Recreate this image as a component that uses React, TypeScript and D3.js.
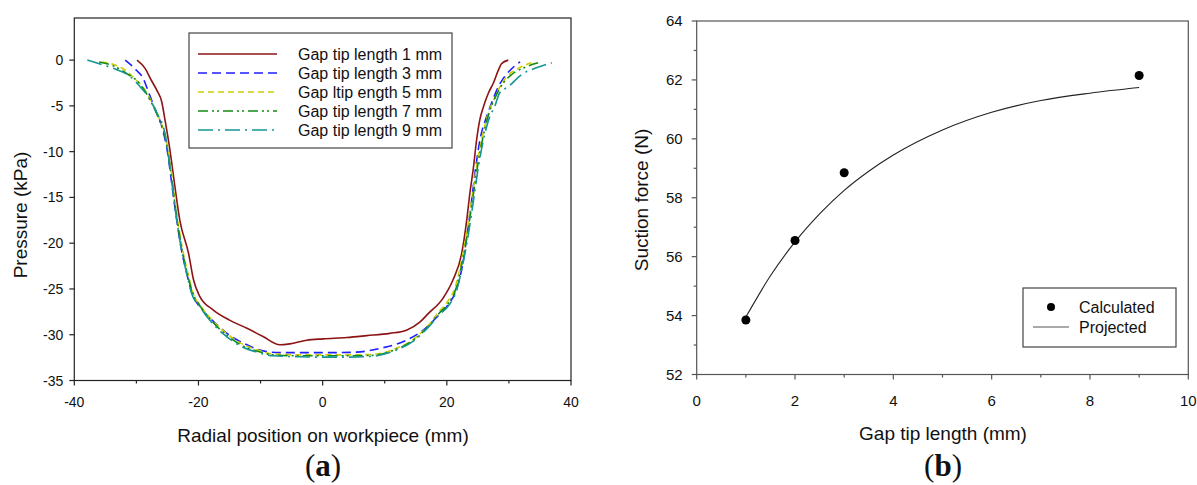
import React from "react";
import * as d3 from "d3";

// ---------- Data (a): pressure profiles ----------
const seriesNames = [
  "Gap tip length 1 mm",
  "Gap tip length 3 mm",
  "Gap ltip ength 5 mm",
  "Gap tip length 7 mm",
  "Gap tip length 9 mm",
];

const x1mm = [-29.9, -28.6, -27.6, -26.7, -25.9, -25.4, -24.6, -23.8, -23.0, -21.6, -20.8, -19.8, -17.6, -15.0, -12.2, -9.6, -6.9, -5.3, -2.6, 0.1, 3.9, 7.1, 10.8, 13.5, 15.7, 17.0, 19.4, 21.0, 22.4, 23.2, 23.7, 24.3, 24.8, 25.3, 25.9, 26.7, 27.5, 28.3, 28.8, 29.9];
const p1mm = [0, -0.9, -2.2, -3.3, -4.6, -6.5, -9.8, -13.8, -17.5, -21.1, -24.0, -25.8, -27.3, -28.4, -29.3, -30.2, -31.1, -31.0, -30.6, -30.45, -30.3, -30.1, -29.85, -29.5, -28.6, -27.7, -26.0, -24.0, -21.1, -17.5, -14.6, -11.65, -8.7, -6.55, -5.1, -3.6, -2.5, -1.1, -0.4, 0];

const x3mm = [-31.8, -30.0, -28.9, -28.2, -27.2, -25.8, -25.0, -24.3, -23.6, -22.8, -22.0, -21.0, -19.5, -18.1, -15.4, -12.2, -9.0, -6.9, -1.5, 2.0, 5.5, 9.2, 13.5, 16.2, 18.5, 20.0, 21.4, 22.5, 23.3, 24.0, 24.6, 25.4, 26.4, 27.2, 28.3, 29.1, 30.2, 31.8];
const p3mm = [0, -1.1, -2.0, -3.2, -5.0, -7.5, -10.0, -13.5, -17.0, -20.5, -23.0, -25.5, -27.2, -28.2, -29.85, -31.1, -31.85, -31.95, -31.95, -31.95, -31.9, -31.5, -30.6, -29.5, -28.0, -26.9, -25.3, -22.5, -18.9, -15.3, -12.0, -8.5, -6.2, -4.7, -2.9, -2.0, -1.1, -0.2];

const x5mm = [-35.6, -34.0, -32.0, -30.3, -28.9, -27.6, -26.3, -25.2, -24.4, -23.6, -22.8, -21.7, -20.9, -19.6, -17.8, -15.6, -13.0, -10.3, -8.0, -4.0, 0, 4.0, 8.0, 11.4, 14.6, 17.0, 18.6, 20.0, 21.4, 22.4, 23.3, 24.1, 24.9, 25.7, 26.6, 27.8, 29.0, 30.3, 31.5, 33.6];
const p5mm = [-0.2, -0.4, -1.0, -2.0, -3.0, -4.5, -6.4, -8.7, -12.0, -16.2, -19.8, -23.3, -25.4, -26.9, -28.4, -29.8, -31.0, -31.7, -32.1, -32.2, -32.2, -32.2, -32.15, -31.6, -30.5, -29.0, -27.6, -26.5, -24.7, -21.8, -18.4, -14.8, -11.2, -8.4, -6.0, -4.0, -2.4, -1.4, -0.9, -0.3];

const x7mm = [-36.0, -34.0, -31.6, -30.0, -28.8, -27.6, -26.4, -25.3, -24.5, -23.7, -22.9, -21.8, -21.0, -19.7, -18.0, -15.8, -13.2, -10.5, -8.0, -4.0, 0, 4.0, 8.0, 11.4, 14.6, 17.0, 18.7, 20.1, 21.5, 22.5, 23.4, 24.2, 25.0, 25.8, 26.7, 27.7, 29.1, 30.4, 32.9, 34.7];
const p7mm = [-0.2, -0.55, -1.45, -2.2, -3.2, -4.6, -6.4, -8.6, -12.0, -16.2, -19.8, -23.3, -25.3, -26.9, -28.4, -29.85, -31.1, -31.8, -32.2, -32.3, -32.3, -32.3, -32.25, -31.7, -30.6, -29.1, -27.7, -26.7, -24.9, -22.0, -18.6, -15.0, -11.4, -8.5, -6.0, -4.2, -2.5, -1.6, -0.7, -0.3];

const x9mm = [-37.9, -35.3, -33.7, -31.0, -29.4, -28.1, -26.7, -25.4, -24.6, -23.8, -23.0, -21.9, -21.1, -19.8, -18.2, -16.0, -13.3, -10.6, -8.0, -4.0, 0, 4.0, 8.0, 11.4, 14.6, 17.0, 18.8, 20.2, 21.6, 22.6, 23.5, 24.3, 25.1, 25.9, 26.9, 27.7, 28.5, 29.9, 32.3, 34.2, 36.9];
const p9mm = [0, -0.55, -0.9, -1.8, -2.9, -4.0, -5.8, -8.0, -11.6, -16.0, -19.7, -23.3, -25.5, -26.9, -28.4, -29.9, -31.2, -31.9, -32.3, -32.4, -32.45, -32.45, -32.35, -31.8, -30.7, -29.2, -27.8, -26.9, -25.1, -22.2, -18.9, -15.3, -11.6, -8.7, -6.2, -5.1, -3.6, -2.9, -1.45, -0.9, -0.3];

const seriesX = [x1mm, x3mm, x5mm, x7mm, x9mm];
const seriesP = [p1mm, p3mm, p5mm, p7mm, p9mm];

const aXTicks = [-40, -20, 0, 20, 40];
const aXMinor = [-30, -10, 10, 30];
const aYTicks = [0, -5, -10, -15, -20, -25, -30, -35];

// ---------- Data (b): suction force ----------
const gapCalc = [1, 2, 3, 9];
const forceCalc = [53.85, 56.55, 58.85, 62.15];
const gapProj = [1, 1.5, 2, 2.5, 3, 3.5, 4, 5, 6, 7, 8, 9];
const forceProj = [53.95, 55.35, 56.5, 57.45, 58.25, 58.9, 59.45, 60.3, 60.9, 61.3, 61.55, 61.74];
const bXTicks = [0, 2, 4, 6, 8, 10];
const bXMinor = [1, 3, 5, 7, 9];
const bYTicks = [52, 54, 56, 58, 60, 62, 64];
const bYMinor = [53, 55, 57, 59, 61, 63];

// ---------- Styles ----------
const styles = [
  { color: "#8c1414", dash: "" },
  { color: "#1f1fff", dash: "9,5" },
  { color: "#cccc00", dash: "6,4" },
  { color: "#128a12", dash: "10,4,2,3,2,4" },
  { color: "#159595", dash: "15,5,2,5" },
];

const FONT = "'Liberation Sans', Arial, sans-serif";
const SERIF = "'Liberation Serif', 'DejaVu Serif', serif";

export default function App() {
  // Panel (a)
  const ax = d3.scaleLinear().domain([-40, 40]).range([74.3, 571]);
  const ay = d3.scaleLinear().domain([-35, 4.6]).range([380.5, 18]);
  const aLine = d3
    .line<[number, number]>()
    .x((d) => ax(d[0]))
    .y((d) => ay(d[1]))
    .curve(d3.curveMonotoneX);

  // Panel (b)
  const bx = d3.scaleLinear().domain([0, 10]).range([696.7, 1188.3]);
  const by = d3.scaleLinear().domain([52, 64]).range([374.5, 21]);
  const bLine = d3
    .line<[number, number]>()
    .x((d) => bx(d[0]))
    .y((d) => by(d[1]))
    .curve(d3.curveMonotoneX);

  const axisA = "#222";
  const axisB = "#555";

  const legendRowsA = [54, 73, 92, 111, 130];

  return (
    <svg
      width={1197}
      height={485}
      style={{ position: "absolute", left: 0, top: 0, background: "#fff" }}
      fontFamily={FONT}
    >
      {/* ================= Panel (a) ================= */}
      <rect x={ax(-40)} y={ay(4.6)} width={ax(40) - ax(-40)} height={ay(-35) - ay(4.6)} fill="none" stroke={axisA} strokeWidth={1.2} />
      {aXTicks.map((t) => (
        <g key={"axt" + t}>
          <line x1={ax(t)} x2={ax(t)} y1={ay(-35)} y2={ay(-35) + 5} stroke={axisA} strokeWidth={1.2} />
          <text x={ax(t)} y={ay(-35) + 26} fontSize={14} textAnchor="middle" fill="#111">{t}</text>
        </g>
      ))}
      {aXMinor.map((t) => (
        <line key={"axm" + t} x1={ax(t)} x2={ax(t)} y1={ay(-35)} y2={ay(-35) + 3} stroke={axisA} strokeWidth={1.2} />
      ))}
      {aYTicks.map((t) => (
        <g key={"ayt" + t}>
          <line x1={ax(-40) - 5} x2={ax(-40)} y1={ay(t)} y2={ay(t)} stroke={axisA} strokeWidth={1.2} />
          <text x={ax(-40) - 11} y={ay(t) + 5} fontSize={14} textAnchor="end" fill="#111">{t}</text>
        </g>
      ))}
      {seriesX.map((xs, i) => (
        <path
          key={"s" + i}
          d={aLine(xs.map((x, j) => [x, seriesP[i][j]] as [number, number])) || ""}
          fill="none"
          stroke={styles[i].color}
          strokeWidth={1.6}
          strokeDasharray={styles[i].dash}
        />
      ))}
      {/* legend (a) */}
      <rect x={189} y={33} width={263} height={115} fill="#fff" stroke="#444" strokeWidth={1.2} />
      {seriesNames.map((n, i) => (
        <g key={"lg" + i}>
          <line x1={198} x2={277} y1={legendRowsA[i]} y2={legendRowsA[i]} stroke={styles[i].color} strokeWidth={1.6} strokeDasharray={styles[i].dash} />
          <text x={298} y={legendRowsA[i] + 6} fontSize={16} fill="#111">{n}</text>
        </g>
      ))}
      <text x={323} y={442} fontSize={19} textAnchor="middle" fill="#111">Radial position on workpiece (mm)</text>
      <text transform={`translate(27,215) rotate(-90)`} fontSize={19} textAnchor="middle" fill="#111">Pressure (kPa)</text>
      <text x={323} y={476} fontSize={31} textAnchor="middle" fontFamily={SERIF} fill="#111">
        (<tspan fontWeight="bold">a</tspan>)
      </text>

      {/* ================= Panel (b) ================= */}
      <rect x={bx(0)} y={by(64)} width={bx(10) - bx(0)} height={by(52) - by(64)} fill="none" stroke={axisB} strokeWidth={1.2} />
      {bXTicks.map((t) => (
        <g key={"bxt" + t}>
          <line x1={bx(t)} x2={bx(t)} y1={by(52)} y2={by(52) + 5} stroke={axisB} strokeWidth={1.2} />
          <text x={bx(t)} y={by(52) + 31} fontSize={15} textAnchor="middle" fill="#111">{t}</text>
        </g>
      ))}
      {bXMinor.map((t) => (
        <line key={"bxm" + t} x1={bx(t)} x2={bx(t)} y1={by(52)} y2={by(52) + 3} stroke={axisB} strokeWidth={1.2} />
      ))}
      {bYTicks.map((t) => (
        <g key={"byt" + t}>
          <line x1={bx(0) - 5} x2={bx(0)} y1={by(t)} y2={by(t)} stroke={axisB} strokeWidth={1.2} />
          <text x={bx(0) - 14} y={by(t) + 5} fontSize={15} textAnchor="end" fill="#111">{t}</text>
        </g>
      ))}
      {bYMinor.map((t) => (
        <line key={"bym" + t} x1={bx(0) - 3} x2={bx(0)} y1={by(t)} y2={by(t)} stroke={axisB} strokeWidth={1.2} />
      ))}
      <path
        d={bLine(gapProj.map((g, i) => [g, forceProj[i]] as [number, number])) || ""}
        fill="none"
        stroke="#222"
        strokeWidth={1.1}
      />
      {gapCalc.map((g, i) => (
        <circle key={"pt" + i} cx={bx(g)} cy={by(forceCalc[i])} r={4.5} fill="#000" />
      ))}
      {/* legend (b) */}
      <rect x={1023} y={288} width={153} height={59} fill="#fff" stroke="#444" strokeWidth={1.2} />
      <circle cx={1051} cy={307} r={4} fill="#000" />
      <text x={1079} y={313} fontSize={16} fill="#111">Calculated</text>
      <line x1={1033} x2={1069} y1={327} y2={327} stroke="#555" strokeWidth={1.1} />
      <text x={1079} y={333} fontSize={16} fill="#111">Projected</text>
      <text x={943} y={440} fontSize={19} textAnchor="middle" fill="#111">Gap tip length (mm)</text>
      <text transform={`translate(648,200) rotate(-90)`} fontSize={19} textAnchor="middle" fill="#111">Suction force (N)</text>
      <text x={943} y={476} fontSize={31} textAnchor="middle" fontFamily={SERIF} fill="#111">
        (<tspan fontWeight="bold">b</tspan>)
      </text>
    </svg>
  );
}
